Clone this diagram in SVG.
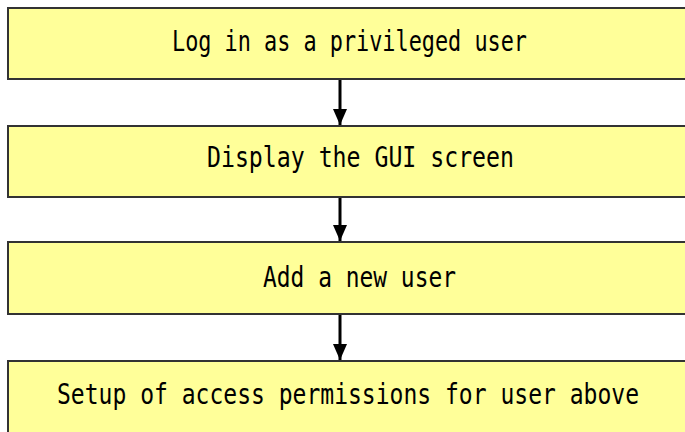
<svg xmlns="http://www.w3.org/2000/svg" width="685" height="432" viewBox="0 0 685 432">
<defs>
<style>
.fill{fill:#FFFF99;stroke:none}
.edge{fill:none;stroke:#333333;stroke-width:2}
.lbl{font-family:"DejaVu Sans Mono","Liberation Mono",monospace;font-size:23px;fill:#000000}
.conn{stroke:#000000;stroke-width:3;fill:none}
</style>
<marker id="ah" markerWidth="16" markerHeight="16" viewBox="0 0 16 16" refX="16" refY="8" orient="auto" markerUnits="userSpaceOnUse">
<path d="M0,1 L16,8 L0,15 Z" fill="#000000"/>
</marker>
</defs>
<rect width="685" height="432" fill="#ffffff"/>
<g id="connectors">
<line class="conn" x1="340" y1="79" x2="340" y2="125" marker-end="url(#ah)"/>
<line class="conn" x1="340" y1="197" x2="340" y2="241" marker-end="url(#ah)"/>
<line class="conn" x1="340" y1="314" x2="340" y2="360" marker-end="url(#ah)"/>
</g>
<g id="node1">
<rect class="fill" x="8" y="8" width="677" height="71"/>
<path class="edge" d="M685,8 H8 V79 H685"/>
<text class="lbl" x="172" y="0" transform="translate(0,51) scale(1,1.22)" textLength="355" lengthAdjust="spacingAndGlyphs">Log in as a privileged user</text>
</g>
<g id="node2">
<rect class="fill" x="8" y="126" width="677" height="71"/>
<path class="edge" d="M685,126 H8 V197 H685"/>
<text class="lbl" x="207" y="0" transform="translate(0,167) scale(1,1.22)" textLength="307" lengthAdjust="spacingAndGlyphs">Display the GUI screen</text>
</g>
<g id="node3">
<rect class="fill" x="8" y="242" width="677" height="72"/>
<path class="edge" d="M685,242 H8 V314 H685"/>
<text class="lbl" x="263" y="0" transform="translate(0,287) scale(1,1.22)" textLength="193" lengthAdjust="spacingAndGlyphs">Add a new user</text>
</g>
<g id="node4">
<rect class="fill" x="8" y="361" width="677" height="71"/>
<path class="edge" d="M685,361 H8 V432"/>
<text class="lbl" x="57" y="0" transform="translate(0,404) scale(1,1.22)" textLength="582" lengthAdjust="spacingAndGlyphs">Setup of access permissions for user above</text>
</g>
</svg>
